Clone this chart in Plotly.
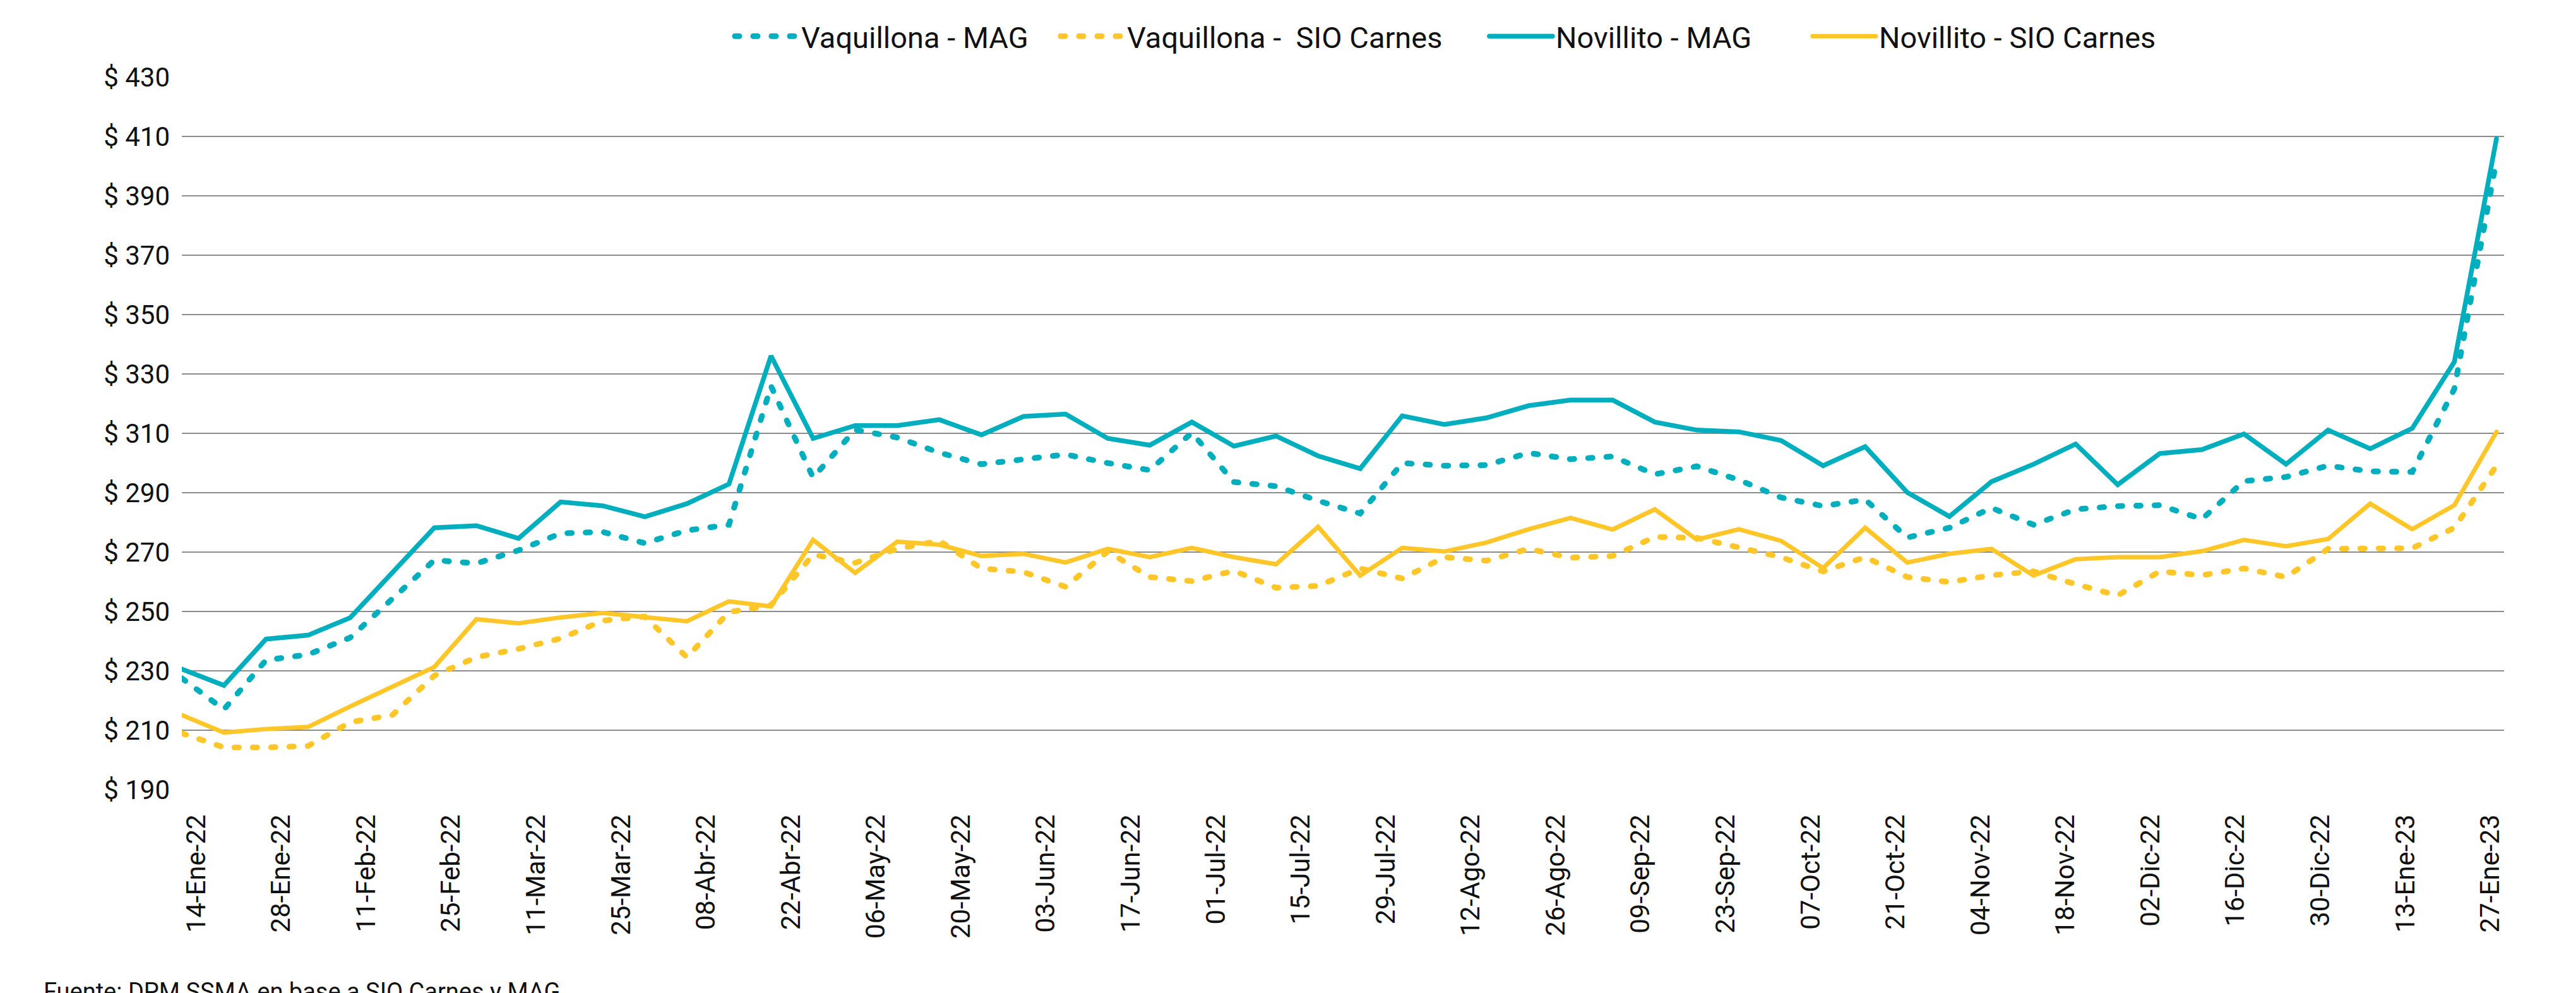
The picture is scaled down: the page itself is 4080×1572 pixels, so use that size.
import plotly.graph_objects as go

# ---- data ----
tick_labels = ["14-Ene-22", "28-Ene-22", "11-Feb-22", "25-Feb-22", "11-Mar-22", "25-Mar-22",
               "08-Abr-22", "22-Abr-22", "06-May-22", "20-May-22", "03-Jun-22", "17-Jun-22",
               "01-Jul-22", "15-Jul-22", "29-Jul-22", "12-Ago-22", "26-Ago-22", "09-Sep-22",
               "23-Sep-22", "07-Oct-22", "21-Oct-22", "04-Nov-22", "18-Nov-22", "02-Dic-22",
               "16-Dic-22", "30-Dic-22", "13-Ene-23", "27-Ene-23"]

vaquillona_mag = [227.5, 217.0, 233.6, 235.5, 241.2, 254.0, 267.3, 266.2, 270.6, 276.3,
                  276.8, 273.0, 277.3, 279.2, 325.9, 295.1, 311.2, 308.6, 303.5, 299.6,
                  301.3, 302.9, 300.0, 297.6, 310.2, 293.6, 292.2, 287.3, 283.0, 300.0,
                  299.1, 299.3, 303.4, 301.3, 302.2, 296.2, 298.9, 294.3, 288.4, 285.5,
                  287.7, 274.9, 278.2, 284.9, 279.2, 284.4, 285.5, 285.8, 281.1, 293.9,
                  295.3, 299.1, 297.2, 297.0, 325.0, 402.0]

vaquillona_sio = [209.0, 204.2, 204.2, 204.7, 212.7, 215.1, 228.4, 234.6, 237.4, 240.9,
                  246.9, 248.3, 234.6, 249.8, 252.1, 269.2, 266.4, 271.1, 273.8, 264.5,
                  263.3, 258.3, 270.2, 261.6, 260.2, 263.7, 258.0, 258.6, 264.5, 261.1,
                  268.3, 267.1, 271.1, 268.1, 268.7, 275.1, 274.8, 271.6, 268.3, 263.5,
                  268.3, 261.6, 259.9, 262.2, 263.5, 259.2, 255.4, 263.5, 262.2, 264.5,
                  261.6, 271.1, 271.3, 271.3, 278.2, 299.1]

novillito_mag = [230.6, 225.1, 240.7, 242.0, 247.9, 263.0, 278.2, 278.9, 274.6, 286.9,
                 285.6, 281.9, 286.3, 292.9, 336.1, 308.3, 312.6, 312.6, 314.6, 309.5,
                 315.7, 316.5, 308.3, 306.0, 313.8, 305.7, 309.1, 302.4, 298.1, 315.9,
                 313.0, 315.2, 319.3, 321.2, 321.2, 313.8, 311.1, 310.5, 307.6, 299.1,
                 305.5, 290.1, 282.0, 293.7, 299.6, 306.4, 292.7, 303.2, 304.5, 309.8,
                 299.6, 311.1, 304.8, 311.7, 334.1, 409.2]

novillito_sio = [215.1, 209.2, 210.4, 211.1, 218.0, 224.8, 231.3, 247.4, 246.0, 248.0,
                 249.5, 248.1, 246.7, 253.4, 251.7, 274.1, 263.0, 273.5, 272.5, 268.7,
                 269.4, 266.5, 271.1, 268.3, 271.4, 268.3, 265.9, 278.5, 262.1, 271.4,
                 270.2, 273.2, 277.7, 281.5, 277.6, 284.4, 274.2, 277.7, 273.8, 264.6,
                 278.2, 266.5, 269.4, 271.1, 262.1, 267.6, 268.3, 268.3, 270.3, 274.1,
                 272.0, 274.4, 286.3, 277.7, 285.8, 310.5]

series_names = ["Vaquillona - MAG", "Vaquillona -  SIO Carnes", "Novillito - MAG", "Novillito - SIO Carnes"]

# ---- styling ----
TEAL = "#00AEBE"
YELLOW = "#FFC629"
FONT = "Roboto"
TEXT = "#111111"
LABEL_OFFSET = 0.345   # position of first date label on the point index scale
LABEL_STEP = 2.019     # spacing of date labels on the point index scale
LEGEND_X = [0.2368, 0.3771, 0.5617, 0.7009]

x_idx = list(range(len(novillito_mag)))
tick_pos = [LABEL_OFFSET + LABEL_STEP * k for k in range(len(tick_labels))]

fig = go.Figure()
styles = [
    (vaquillona_mag, TEAL, 9, "7px,22px"),
    (vaquillona_sio, YELLOW, 9, "7px,22px"),
    (novillito_mag, TEAL, 7.5, "solid"),
    (novillito_sio, YELLOW, 7, "solid"),
]
legend_ids = ["legend", "legend2", "legend3", "legend4"]
for name, (vals, color, w, dash), lg in zip(series_names, styles, legend_ids):
    fig.add_trace(go.Scatter(
        x=x_idx, y=vals, mode="lines", name=name,
        line=dict(color=color, width=w, dash=dash),
        hoverinfo="skip", legend=lg,
    ))

legend_common = dict(
    orientation="h", xanchor="left", y=1.057, yanchor="middle",
    font=dict(family=FONT, size=47, color=TEXT),
    itemwidth=100, bgcolor="rgba(0,0,0,0)",
)

fig.update_layout(
    width=4080, height=1572,
    margin=dict(l=288, r=114, t=122, b=322),
    paper_bgcolor="white", plot_bgcolor="white",
    font=dict(family=FONT, color=TEXT, size=42),
    showlegend=True,
    legend=dict(x=LEGEND_X[0], **legend_common),
    legend2=dict(x=LEGEND_X[1], **legend_common),
    legend3=dict(x=LEGEND_X[2], **legend_common),
    legend4=dict(x=LEGEND_X[3], **legend_common),
    xaxis=dict(
        range=[0, 55.18], showgrid=False, zeroline=False, showline=False,
        tickmode="array", tickvals=tick_pos, ticktext=tick_labels,
        tickangle=-90, tickfont=dict(family=FONT, size=42, color=TEXT),
        ticks="", ticklabelstandoff=30,
    ),
    yaxis=dict(
        range=[190, 430], dtick=20, tick0=190, tickprefix="$ ",
        showgrid=True, gridcolor="#8c8c8c", gridwidth=2,
        zeroline=False, showline=False, ticks="",
        tickfont=dict(family=FONT, size=42, color=TEXT),
        ticklabelstandoff=18,
    ),
    annotations=[dict(
        text="Fuente: DPM SSMA en base a SIO Carnes y MAG",
        xref="paper", yref="paper", x=-0.0601, y=-0.262,
        xanchor="left", yanchor="top", showarrow=False,
        font=dict(family=FONT, size=38, color=TEXT),
    )],
)

post = (
    "document.body.style.margin='0';"
    "var gd=document.getElementById('{plot_id}');"
    "function rc(){gd.querySelectorAll('.scatterlayer .js-line, .legendlines path')"
    ".forEach(function(p){p.style.strokeLinecap='round';});}"
    "rc(); if(gd.on){gd.on('plotly_afterplot', rc);}"
)

fig.write_html("out.html", config={"displayModeBar": False}, post_script=post)
